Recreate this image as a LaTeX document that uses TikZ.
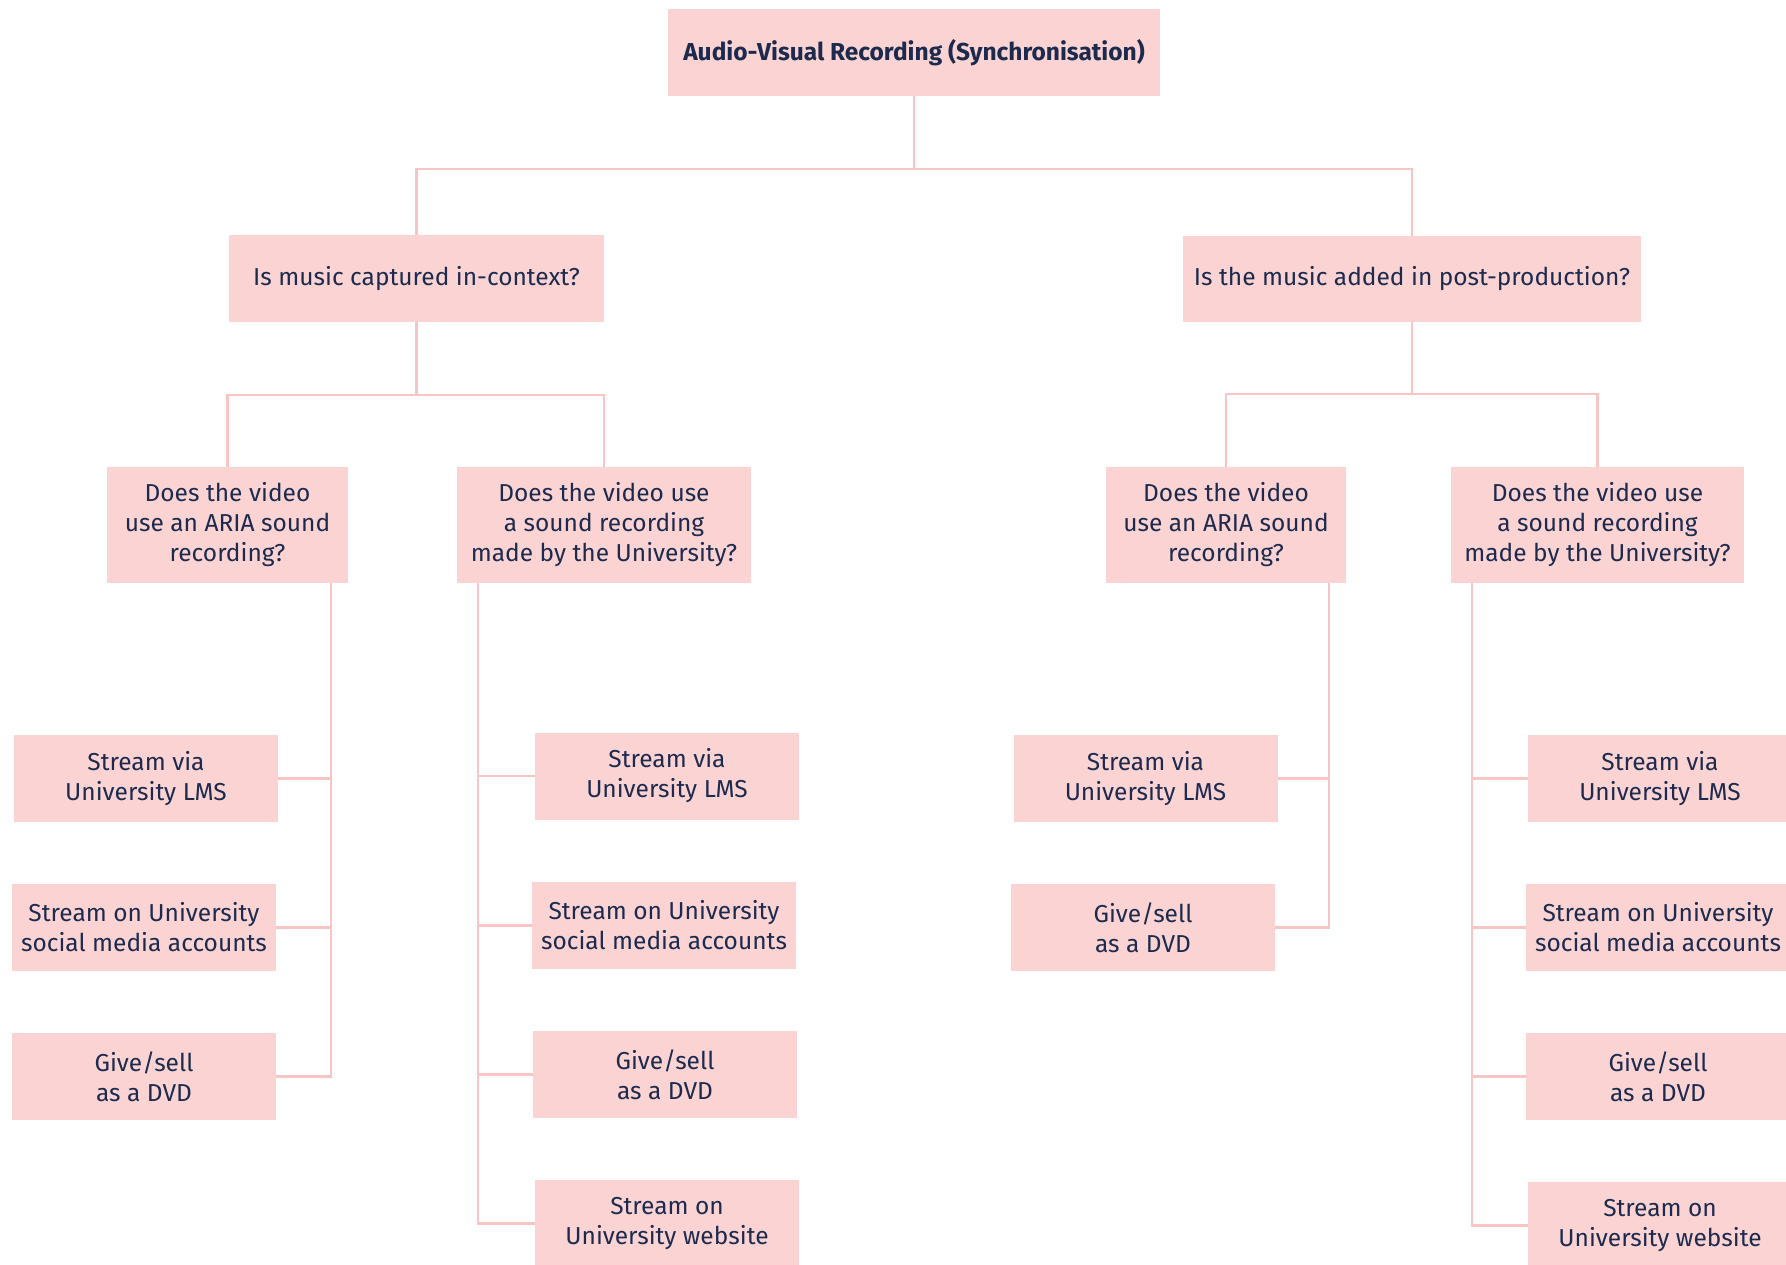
\documentclass[tikz,border=0pt]{standalone}
\usepackage{fontspec}
\setmainfont{Fira Sans}
\usetikzlibrary{calc}
\definecolor{boxfill}{HTML}{FBD3D3}
\definecolor{linepink}{HTML}{F8C4C4}
\definecolor{navy}{HTML}{1C2A4D}
\begin{document}
\begin{tikzpicture}[x=1pt,y=-1pt,
  box/.style={rectangle, fill=boxfill, draw=none, text=navy, align=center,
    inner sep=0pt, font=\fontsize{24.5}{30}\selectfont},
  leaf/.style={box, minimum width=264pt, minimum height=87pt},
  quest/.style={box, minimum height=116pt},
  conn/.style={draw=linepink, line width=2.5pt}
]
\useasboundingbox (0,0) rectangle (1786,1265);
\begin{scope}
\clip (0,0) rectangle (1786,1265);
% top
\node[box, minimum width=492pt, minimum height=87pt, font=\fontsize{24.5}{30}\selectfont\bfseries] (top) at (914,52.5) {Audio-Visual Recording (Synchronisation)};
\node[box, minimum width=375pt, minimum height=87pt] (q1) at (416.5,278.5) {Is music captured in-context?};
\node[box, minimum width=458pt, minimum height=86pt] (q2) at (1412,279) {Is the music added in post-production?};
% questions
\node[quest, minimum width=241pt] (a1) at (227.5,525) {Does the video\\use an ARIA sound\\recording?};
\node[quest, minimum width=294pt] (a2) at (604,525) {Does the video use\\a sound recording\\made by the University?};
\node[quest, minimum width=240pt] (a3) at (1226,525) {Does the video\\use an ARIA sound\\recording?};
\node[quest, minimum width=293pt] (a4) at (1597.5,525) {Does the video use\\a sound recording\\made by the University?};
% leaves col 1
\node[leaf] (l11) at (146,778.5) {Stream via\\University LMS};
\node[leaf] (l12) at (144,927.5) {Stream on University\\social media accounts};
\node[leaf] (l13) at (144,1076.5) {Give/sell\\as a DVD};
% leaves col 2
\node[leaf] (l21) at (667,776) {Stream via\\University LMS};
\node[leaf] (l22) at (664,925.5) {Stream on University\\social media accounts};
\node[leaf] (l23) at (665,1074.5) {Give/sell\\as a DVD};
\node[leaf] (l24) at (667,1223.5) {Stream on\\University website};
% leaves col 3
\node[leaf] (l31) at (1145.5,778.5) {Stream via\\University LMS};
\node[leaf] (l32) at (1143,927.5) {Give/sell\\as a DVD};
% leaves col 4
\node[leaf] (l41) at (1660,778.5) {Stream via\\University LMS};
\node[leaf] (l42) at (1658,927.5) {Stream on University\\social media accounts};
\node[leaf] (l43) at (1658,1076.5) {Give/sell\\as a DVD};
\node[leaf] (l44) at (1660,1225.5) {Stream on\\University website};
\end{scope}
% tree connectors
\coordinate (j0) at ($(top.south)+(0,73)$);
\draw[conn] (top.south) -- (j0);
\draw[conn] (q1.north) |- (j0) -| (q2.north);
\coordinate (j1) at ($(q1.south)+(0,73)$);
\draw[conn] (q1.south) -- (j1);
\draw[conn] (a1.north) |- (j1) -| (a2.north);
\coordinate (j2) at ($(q2.south)+(0,72)$);
\draw[conn] (q2.south) -- (j2);
\draw[conn] (a3.north) |- (j2) -| (a4.north);
% leaf connectors
\coordinate (s1) at ($(a1.south east)+(-17,0)$);
\coordinate (s2) at ($(a2.south west)+(21,0)$);
\coordinate (s3) at ($(a3.south east)+(-17,0)$);
\coordinate (s4) at ($(a4.south west)+(21,0)$);
\draw[conn] (s1) |- (l13.east);
\draw[conn] (l11.east) -- (l11.east -| s1);
\draw[conn] (l12.east) -- (l12.east -| s1);
\draw[conn] (s2) |- (l24.west);
\draw[conn] (l21.west) -- (l21.west -| s2);
\draw[conn] (l22.west) -- (l22.west -| s2);
\draw[conn] (l23.west) -- (l23.west -| s2);
\draw[conn] (s3) |- (l32.east);
\draw[conn] (l31.east) -- (l31.east -| s3);
\draw[conn] (s4) |- (l44.west);
\draw[conn] (l41.west) -- (l41.west -| s4);
\draw[conn] (l42.west) -- (l42.west -| s4);
\draw[conn] (l43.west) -- (l43.west -| s4);
\end{tikzpicture}
\end{document}
